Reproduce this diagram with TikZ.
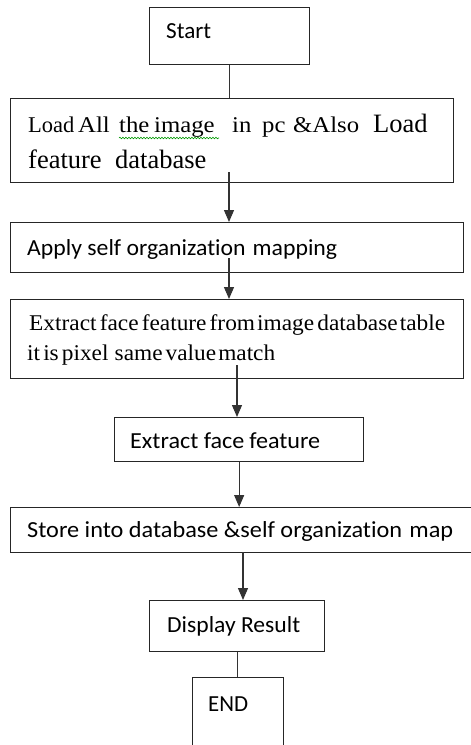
\documentclass[tikz,border=0pt]{standalone}
\usepackage{fontspec}
\usepackage{graphicx}
\setmainfont{Liberation Serif}
\newfontfamily\calfont[Ligatures={NoCommon}]{Carlito}
\newcommand{\fitw}[2]{\resizebox{#1}{\height}{#2}}
\newcommand{\bigsz}{\fontsize{26.5}{30}\selectfont}
\newcommand{\wword}[2]{\makebox[#1][l]{\scalebox{1.1}[1]{#2}}}
\usetikzlibrary{arrows.meta,decorations.pathmorphing}
\begin{document}
\begin{tikzpicture}[x=1pt,y=-1pt,
  box/.style={draw=black!85, line width=1.3pt, fill=white, anchor=north west, inner sep=0pt},
  txt/.style={anchor=base west, inner sep=0pt, font=\fontsize{22.5}{27}\selectfont},
  ctxt/.style={txt, font=\fontsize{23}{27}\selectfont\calfont},
  conn/.style={draw=black!80, line width=1.1pt},
  arr/.style={conn, -{Triangle[length=12pt,width=10pt]}}]
\useasboundingbox (0,0) rectangle (471,745);
% boxes
\node[box, minimum width=160pt, minimum height=57pt] (start) at (149,7) {};
\node[box, minimum width=443pt, minimum height=84pt] (load) at (10,98) {};
\node[box, minimum width=453pt, minimum height=50pt] (apply) at (10,222) {};
\node[box, minimum width=453pt, minimum height=79pt] (extract) at (10,299) {};
\node[box, minimum width=249pt, minimum height=44pt] (eff) at (114,417) {};
\node[box, minimum width=475pt, minimum height=45pt] (store) at (10,507) {};
\node[box, minimum width=175pt, minimum height=51pt] (display) at (149,600) {};
\node[box, minimum width=91pt, minimum height=80pt] (endb) at (192,677) {};
% texts
\node[ctxt] (tstart) at (166,38) {\fitw{45pt}{Start}};
\node[txt] (tload1) at (28,132) {\makebox[50pt][l]{Load}\wword{41pt}{All}\wword{35pt}{the}\wword{78pt}{image}\wword{30pt}{in}\wword{31pt}{pc}\wword{80pt}{\&Also}{\bigsz Load}};
\node[txt] (tload2) at (28,168) {\bigsz\makebox[87pt][l]{feature}database};
\node[ctxt] (tapply) at (27,255) {\fitw{310pt}{Apply self organization\hspace{0.3em}mapping}};
\node[txt] (tex1) at (29,330) {\fitw{416pt}{\spaceskip=3pt Extract face feature from\hspace{-1pt} image database\hspace{-1pt} table}};
\node[txt] (tex2) at (27,360) {\fitw{248pt}{\spaceskip=3pt it is pixel\hspace{3pt} same value\hspace{-1pt} match}};
\node[ctxt] (teff) at (130,448) {\fitw{190pt}{Extract face\hspace{0.2em}feature}};
\node[ctxt] (tstore) at (27,537) {\fitw{426pt}{Store into database \&self organization\hspace{0.3em}map}};
\node[ctxt] (tdisp) at (167,632) {\fitw{133pt}{Display Result}};
\node[ctxt] (tend) at (208,711) {\fitw{40pt}{END}};
% spell-check squiggle
\coordinate (sq1) at (119,138);
\coordinate (sq2) at (219,138);
\draw[green!60!black, line width=0.6pt, decorate, decoration={snake, amplitude=0.8pt, segment length=3pt}] (sq1) -- (sq2);
% connectors
\coordinate (la) at (229,172);
\coordinate (ap) at (229,258);
\coordinate (ex) at (237,365);
\coordinate (st) at (243,552);
\draw[conn] (start.south) -- (start.south |- load.north);
\draw[arr] (la) -- (la |- apply.north);
\draw[arr] (ap) -- (ap |- extract.north);
\draw[arr] (ex) -- (ex |- eff.north);
\draw[arr] (eff.south) -- (eff.south |- store.north);
\draw[arr] (st) -- (st |- display.north);
\draw[conn] (display.south) -- (display.south |- endb.north);
\end{tikzpicture}
\end{document}
